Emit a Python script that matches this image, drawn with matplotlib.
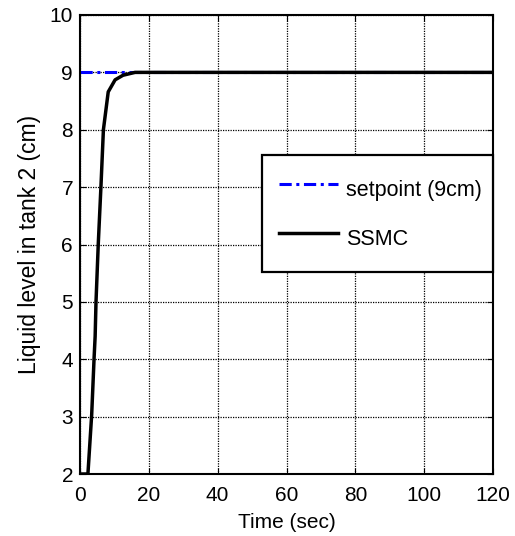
import numpy as np
import matplotlib.pyplot as plt
import matplotlib as mpl

mpl.rcParams["font.family"] = "Liberation Sans"
mpl.rcParams["font.size"] = 15

# liquid level response of tank 2 (time in sec, level in cm)
t_ssmc = [0, 2.3, 3.4, 4.1, 4.4, 4.65, 5.3, 6.1, 6.8, 8.2, 10.2, 12.5, 16, 120]
y_ssmc = [2, 2, 3.04, 4.03, 4.4, 5.0, 6.0, 7.03, 8.0, 8.66, 8.87, 8.95, 9.0, 9.0]
t_sp = [0, 120]
y_sp = [9, 9]

fig = plt.figure(figsize=(5.15, 5.36), dpi=100)
ax = fig.add_axes([80/515, 1 - 474/536, 413/515, 459/536])

ax.plot(t_sp, y_sp, color='b', linestyle=(0, (4, 1.5, 1, 1.5)), linewidth=2.2, label='setpoint (9cm)')
ax.plot(t_ssmc, y_ssmc, color='k', linewidth=2.5, label='SSMC')

ax.set_xlim(0, 120)
ax.set_ylim(2, 10)
ax.set_xticks(np.arange(0, 121, 20))
ax.set_yticks(np.arange(2, 11, 1))
ax.grid(True, color='k', linestyle=(0, (1, 1)), linewidth=0.9)
ax.tick_params(direction='in', length=4, labelsize=15, top=True, right=True, pad=5)
ax.tick_params(axis='x', pad=8.5)
for s in ax.spines.values():
    s.set_linewidth(1.5)

ax.set_xlabel("Time (sec)", fontsize=15, labelpad=6)
ax.set_ylabel("Liquid level in tank 2 (cm)", fontsize=16.5, labelpad=6)

leg = ax.legend(loc='upper left', bbox_to_anchor=((262-80)/413, (474-272)/459, (493-262)/413, 117/459),
                mode='expand', fancybox=False, framealpha=1, edgecolor='k', fontsize=15.5,
                borderpad=0.8, labelspacing=0.7, handlelength=2.75, handleheight=2.05,
                handletextpad=0.35, borderaxespad=0)
leg.get_frame().set_linewidth(1.6)

fig.savefig('out.png', dpi=100)
